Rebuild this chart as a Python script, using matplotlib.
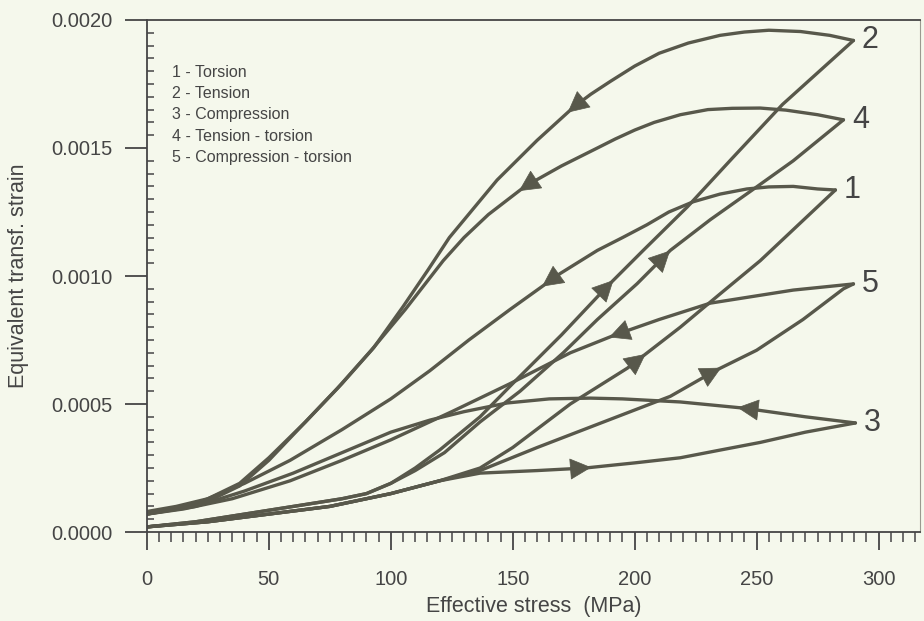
import numpy as np
import matplotlib
matplotlib.use("Agg")
import matplotlib.pyplot as plt
from matplotlib.ticker import MultipleLocator, FormatStrFormatter

plt.rcParams['font.family'] = ['Liberation Sans', 'DejaVu Sans']

# ---------------- data (stress MPa, equivalent transformation strain) ----------------
# Curve 1 - Torsion
c1_load_s = [0, 25, 50, 75, 100, 120, 136.6, 150, 173.6, 197, 218.7, 235, 251.5, 282.3]
c1_load_e = [0.00002, 0.00004, 0.00007, 0.0001, 0.00015, 0.0002, 0.00025, 0.00033, 0.0005,
             0.00064, 0.0008, 0.00093, 0.00106, 0.001336]
c1_unl_s = [282.3, 275, 265, 255, 246, 235, 224, 214, 205, 195, 184.7, 169.5, 149, 132, 116,
            100, 80, 58.7, 40, 20, 0]
c1_unl_e = [0.001336, 0.00134, 0.00135, 0.001348, 0.00134, 0.00132, 0.00129, 0.00125, 0.0012,
            0.00115, 0.0011, 0.00101, 0.00087, 0.00075, 0.00063, 0.00052, 0.0004, 0.00028,
            0.00019, 0.00011, 0.00007]

# Curve 2 - Tension
c2_load_s = [0, 20, 40, 60, 80, 90, 100, 110, 120, 136.6, 150, 170, 188.8, 203.5, 221.6, 240,
             260.6, 289.7]
c2_load_e = [0.00002, 0.00004, 0.00007, 0.0001, 0.00013, 0.00015, 0.00019, 0.00025, 0.00032,
             0.00045, 0.00058, 0.00077, 0.00096, 0.0011, 0.00127, 0.00146, 0.00167, 0.00192]
c2_unl_s = [289.7, 280, 268, 255, 245, 235, 222, 210, 200, 190, 182, 175, 160, 143.6, 124, 115,
            105, 93, 80, 65, 50, 38, 25, 12, 0]
c2_unl_e = [0.00192, 0.00194, 0.001955, 0.00196, 0.001953, 0.00194, 0.00191, 0.00187, 0.00182,
            0.00176, 0.00171, 0.00166, 0.00153, 0.001375, 0.00115, 0.00102, 0.00088, 0.00072,
            0.00058, 0.00043, 0.00029, 0.00019, 0.00013, 0.0001, 0.00008]

# Curve 3 - Compression
c3_load_s = [0, 25, 50, 75, 100, 120, 136.6, 160, 179.7, 200, 218.7, 235, 251.5, 270, 290.5]
c3_load_e = [0.00002, 0.00004, 0.00007, 0.0001, 0.00015, 0.0002, 0.00023, 0.00024, 0.00025,
             0.00027, 0.00029, 0.00032, 0.00035, 0.00039, 0.000426]
c3_unl_s = [290.5, 270, 244.6, 218.7, 195, 181.8, 165, 147.7, 130, 116, 100, 80, 60, 40, 20, 0]
c3_unl_e = [0.000426, 0.00045, 0.000484, 0.000508, 0.00052, 0.000523, 0.00052, 0.000504,
            0.00047, 0.000437, 0.00039, 0.00031, 0.00023, 0.00016, 0.0001, 0.00007]

# Curve 4 - Tension - torsion
c4_load_s = [0, 20, 40, 60, 80, 90, 100, 110, 122, 136.6, 153, 170.7, 184.7, 201, 214.6, 231,
             250.3, 265, 285.6]
c4_load_e = [0.00002, 0.00004, 0.00007, 0.0001, 0.00013, 0.00015, 0.00019, 0.00024, 0.00031,
             0.00043, 0.00055, 0.0007, 0.00083, 0.00097, 0.0011, 0.00122, 0.00135, 0.00145,
             0.00161]
c4_unl_s = [285.6, 275, 262, 251.5, 240, 230, 218.7, 208, 200, 192, 184.7, 170, 155, 140, 130,
            121.5, 106, 92, 78, 64, 50, 38, 25, 12, 0]
c4_unl_e = [0.00161, 0.00163, 0.001648, 0.001656, 0.001655, 0.00165, 0.00163, 0.0016, 0.00157,
            0.001535, 0.0015, 0.00143, 0.00135, 0.00124, 0.00115, 0.00106, 0.00087, 0.00071,
            0.00056, 0.00042, 0.00028, 0.00018, 0.00012, 0.00009, 0.00007]

# Curve 5 - Compression - torsion
c5_load_s = [0, 25, 50, 75, 100, 120, 136.6, 160, 190, 214.6, 233, 250, 269, 285.6, 289.7]
c5_load_e = [0.00002, 0.00004, 0.00007, 0.0001, 0.00015, 0.0002, 0.00024, 0.00033, 0.00044,
             0.00053, 0.00063, 0.00071, 0.00083, 0.00095, 0.000969]
c5_unl_s = [289.7, 265, 231, 210, 192, 173.6, 149, 125, 100, 80, 58.7, 35, 15, 0]
c5_unl_e = [0.000969, 0.000945, 0.000894, 0.00083, 0.00077, 0.0007, 0.00058, 0.00047, 0.00036,
            0.00028, 0.0002, 0.00013, 0.00009, 0.00007]

curve_ids = ["1", "2", "3", "4", "5"]
# arrow positions (stress) on loading / unloading branches
arrow_load_at = [202, 188.8, 179.7, 212, 233]
arrow_unl_at = [164.5, 175, 244.6, 155, 192]

legend_lines = ["1 - Torsion", "2 - Tension", "3 - Compression",
                "4 - Tension - torsion", "5 - Compression - torsion"]

x_ticks = [0, 50, 100, 150, 200, 250, 300]
y_ticks = [0.0, 0.0005, 0.0010, 0.0015, 0.0020]

# ---------------- drawing ----------------
bg = '#F5F8EC'
lc = '#58584b'
tc = '#454545'

fig = plt.figure(figsize=(9.24, 6.21), dpi=100, facecolor=bg)
ax = fig.add_axes([0.159, 0.1433, 0.8367, 0.8245], facecolor=bg)

curves = [
    (c1_load_s, c1_load_e, c1_unl_s, c1_unl_e),
    (c2_load_s, c2_load_e, c2_unl_s, c2_unl_e),
    (c3_load_s, c3_load_e, c3_unl_s, c3_unl_e),
    (c4_load_s, c4_load_e, c4_unl_s, c4_unl_e),
    (c5_load_s, c5_load_e, c5_unl_s, c5_unl_e),
]


def interp(s_list, e_list, s0):
    s = np.asarray(s_list, float)
    e = np.asarray(e_list, float)
    order = np.argsort(s)
    return float(np.interp(s0, s[order], e[order]))


def add_arrow(s_list, e_list, s0, forward):
    d = 2.5 if forward else -2.5
    p0 = (s0 - d, interp(s_list, e_list, s0 - d))
    p1 = (s0 + d, interp(s_list, e_list, s0 + d))
    ax.annotate('', xy=p1, xytext=p0,
                arrowprops=dict(arrowstyle='-|>,head_length=0.9,head_width=0.45',
                                color=lc, lw=0.5, shrinkA=0, shrinkB=0,
                                mutation_scale=16))


for i, (ls, le, us, ue) in enumerate(curves):
    ax.plot(ls, le, color=lc, lw=2.4, solid_capstyle='round', solid_joinstyle='round')
    ax.plot(us, ue, color=lc, lw=2.4, solid_capstyle='round', solid_joinstyle='round')
    if arrow_load_at[i] is not None:
        add_arrow(ls, le, arrow_load_at[i], True)
    if arrow_unl_at[i] is not None:
        add_arrow(us, ue, arrow_unl_at[i], False)
    ax.text(ls[-1] + 3.5, le[-1], curve_ids[i], fontsize=22, color=tc,
            ha='left', va='center', clip_on=False)

for k, t in enumerate(legend_lines):
    ax.text(0.032, 0.898 - k * 0.0416, t, transform=ax.transAxes, fontsize=11.5,
            color=tc, ha='left', va='center')

ax.set_xlim(0, 317)
ax.set_ylim(0, 0.0020)
ax.set_xticks(x_ticks)
ax.set_yticks(y_ticks)
ax.xaxis.set_minor_locator(MultipleLocator(5))
ax.yaxis.set_minor_locator(MultipleLocator(0.00005))
ax.yaxis.set_major_formatter(FormatStrFormatter('%.4f'))

ax.tick_params(axis='x', which='major', direction='out', length=13, width=1.3,
               pad=14, labelsize=14.5, colors=tc)
ax.tick_params(axis='x', which='minor', direction='out', length=7, width=1.1, colors=tc)
ax.tick_params(axis='y', which='major', direction='out', length=16, width=1.3,
               pad=9, labelsize=14.5, colors=tc)
ax.tick_params(axis='y', which='minor', direction='in', length=5, width=1.1, colors=tc)

for sp in ax.spines.values():
    sp.set_color(tc)
    sp.set_linewidth(1.3)
ax.spines['right'].set_linewidth(0.8)
ax.spines['right'].set_color('#9a9a90')

ax.set_xlabel('Effective stress  (MPa)', fontsize=15.5, color=tc)
ax.set_ylabel('Equivalent transf. strain', fontsize=15.5, color=tc)
ax.xaxis.set_label_coords(0.5, -0.125)
ax.yaxis.set_label_coords(-0.152, 0.5)

fig.savefig('out.png', dpi=100, facecolor=bg)
